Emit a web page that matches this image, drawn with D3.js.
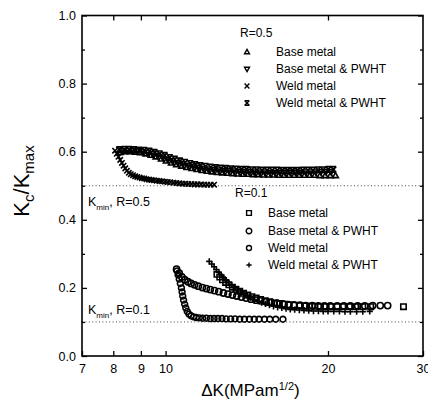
<!DOCTYPE html>
<html><head><meta charset="utf-8">
<script src="https://cdn.jsdelivr.net/npm/d3@7"></script>
<style>body{margin:0;background:#fff}svg{display:block;font-family:"Liberation Sans",Arial,sans-serif}</style>
</head><body><svg id="c" width="428" height="412"></svg>
<script>
const xTicks=[7,8,9,10,20,30];
const xInnerTicks=[8,9,10,20];
const yTicks=[0,0.2,0.4,0.6,0.8,1.0];
const yMinorTicks=[0.1,0.3,0.5,0.7,0.9];
const kminLevels=[0.5,0.1];

// R = 0.5
const r05BaseMetal=[[8.25,0.598],[8.43,0.6],[8.62,0.6],[8.81,0.599],[9.0,0.597],[9.2,0.594],[9.4,0.59],[9.6,0.585],[9.82,0.579],[10.03,0.573],[10.25,0.567],[10.48,0.562],[10.71,0.558],[10.95,0.554],[11.19,0.551],[11.44,0.548],[11.69,0.545],[11.95,0.543],[12.21,0.541],[12.48,0.539],[12.76,0.538],[13.04,0.537],[13.33,0.536],[13.62,0.535],[13.92,0.534],[14.23,0.534],[14.55,0.533],[14.87,0.533],[15.2,0.532],[15.53,0.532],[15.88,0.532],[16.23,0.531],[16.59,0.531],[16.95,0.531],[17.33,0.531],[17.71,0.531],[18.1,0.531],[18.5,0.531],[18.91,0.531],[19.33,0.53],[19.76,0.53],[20.2,0.53],[20.65,0.53]];
const r05BaseMetalPWHT=[[8.3,0.602],[8.48,0.603],[8.66,0.603],[8.85,0.602],[9.04,0.6],[9.24,0.598],[9.45,0.594],[9.66,0.589],[9.87,0.584],[10.08,0.578],[10.3,0.573],[10.53,0.568],[10.76,0.564],[11.0,0.56],[11.24,0.557],[11.49,0.554],[11.74,0.551],[12.0,0.549],[12.27,0.547],[12.54,0.546],[12.81,0.545],[13.1,0.544],[13.39,0.543],[13.68,0.542],[13.98,0.541],[14.29,0.541],[14.6,0.54],[14.93,0.54],[15.26,0.54],[15.6,0.539],[15.94,0.539],[16.29,0.539],[16.65,0.539],[17.02,0.539],[17.4,0.539],[17.78,0.539],[18.17,0.54],[18.57,0.54],[18.98,0.54],[19.4,0.541],[19.83,0.541],[20.27,0.541]];
const r05WeldMetal=[[8.06,0.603],[8.12,0.594],[8.18,0.585],[8.24,0.576],[8.3,0.567],[8.36,0.559],[8.42,0.551],[8.48,0.544],[8.55,0.538],[8.62,0.534],[8.7,0.531],[8.78,0.528],[8.86,0.526],[8.95,0.524],[9.04,0.522],[9.13,0.521],[9.22,0.519],[9.32,0.518],[9.42,0.517],[9.52,0.516],[9.63,0.515],[9.74,0.514],[9.85,0.513],[9.97,0.512],[10.09,0.511],[10.21,0.51],[10.34,0.509],[10.47,0.508],[10.6,0.507],[10.74,0.506],[10.88,0.506],[11.02,0.505],[11.17,0.505],[11.32,0.504],[11.47,0.504],[11.63,0.504],[11.79,0.503],[11.95,0.503],[12.12,0.503],[12.3,0.503]];
const r05WeldMetalPWHT=[[8.2,0.606],[8.38,0.607],[8.56,0.607],[8.75,0.606],[8.94,0.605],[9.14,0.604],[9.34,0.602],[9.55,0.598],[9.76,0.594],[9.97,0.589],[10.19,0.583],[10.41,0.578],[10.64,0.573],[10.88,0.569],[11.12,0.565],[11.36,0.562],[11.61,0.559],[11.87,0.557],[12.13,0.555],[12.4,0.553],[12.67,0.552],[12.95,0.551],[13.24,0.55],[13.53,0.549],[13.83,0.548],[14.13,0.548],[14.44,0.547],[14.76,0.547],[15.09,0.546],[15.42,0.546],[15.76,0.546],[16.11,0.546],[16.46,0.545],[16.82,0.545],[17.19,0.545],[17.57,0.545],[17.96,0.546],[18.36,0.546],[18.76,0.546],[19.17,0.547],[19.6,0.547],[20.03,0.548],[20.47,0.548]];

// R = 0.1
const r01BaseMetal=[[12.45,0.24],[12.6,0.232],[12.75,0.224],[12.92,0.216],[13.1,0.209],[13.3,0.202],[13.5,0.196],[13.72,0.19],[13.95,0.184],[14.2,0.179],[14.45,0.174],[14.72,0.17],[15.0,0.166],[15.3,0.162],[15.6,0.159],[15.92,0.156],[16.25,0.154],[16.6,0.152],[16.95,0.15],[17.3,0.149],[17.7,0.148],[18.1,0.147],[18.5,0.146],[18.9,0.146],[19.35,0.145],[19.8,0.145],[20.3,0.145],[20.8,0.145],[21.3,0.145],[21.9,0.145],[22.5,0.145],[23.2,0.145],[24.0,0.145],[27.6,0.145]];
const r01BaseMetalPWHT=[[10.48,0.255],[10.6,0.243],[10.72,0.232],[10.85,0.224],[11.0,0.218],[11.15,0.213],[11.32,0.209],[11.5,0.205],[11.7,0.201],[11.9,0.198],[12.1,0.195],[12.32,0.192],[12.55,0.189],[12.8,0.185],[13.05,0.182],[13.3,0.179],[13.55,0.176],[13.82,0.173],[14.1,0.17],[14.4,0.167],[14.7,0.164],[15.0,0.162],[15.35,0.159],[15.7,0.157],[16.1,0.155],[16.5,0.153],[16.9,0.151],[17.3,0.15],[17.75,0.149],[18.2,0.148],[18.7,0.148],[19.2,0.147],[19.7,0.147],[20.2,0.147],[20.8,0.147],[21.4,0.147],[22.0,0.147],[22.7,0.147],[23.4,0.147],[24.2,0.148],[25.0,0.148],[25.8,0.148]];
const r01WeldMetal=[[10.5,0.25],[10.55,0.238],[10.6,0.226],[10.65,0.213],[10.7,0.2],[10.73,0.188],[10.76,0.176],[10.8,0.164],[10.85,0.152],[10.9,0.141],[10.97,0.131],[11.05,0.123],[11.15,0.118],[11.27,0.115],[11.4,0.113],[11.55,0.112],[11.72,0.111],[11.9,0.111],[12.1,0.11],[12.3,0.11],[12.5,0.11],[12.72,0.11],[12.95,0.109],[13.2,0.109],[13.45,0.109],[13.72,0.108],[14.0,0.108],[14.3,0.108],[14.6,0.108],[14.9,0.108],[15.25,0.108],[15.6,0.108],[16.0,0.108],[16.5,0.108]];
const r01WeldMetalPWHT=[[12.05,0.278],[12.18,0.27],[12.3,0.262],[12.42,0.254],[12.55,0.246],[12.68,0.238],[12.82,0.23],[12.96,0.222],[13.1,0.215],[13.26,0.208],[13.42,0.201],[13.6,0.194],[13.78,0.188],[13.97,0.182],[14.17,0.176],[14.38,0.171],[14.6,0.166],[14.83,0.161],[15.07,0.157],[15.32,0.153],[15.58,0.149],[15.85,0.146],[16.13,0.143],[16.42,0.141],[16.72,0.139],[17.03,0.137],[17.35,0.136],[17.7,0.135],[18.05,0.134],[18.42,0.133],[18.8,0.132],[19.2,0.132],[19.6,0.131],[20.0,0.131],[20.5,0.131],[21.0,0.131],[21.5,0.13],[22.0,0.13],[22.6,0.13],[23.2,0.13],[23.9,0.131]];

const legendR05=["Base metal","Base metal & PWHT","Weld metal","Weld metal & PWHT"];
const legendR01=["Base metal","Base metal & PWHT","Weld metal","Weld metal & PWHT"];

const L=82,R=423,T=15.5,B=356;
const x=d3.scaleLog().domain([7,30]).range([L,R]);
const y=d3.scaleLinear().domain([0,1]).range([B,T]);
const svg=d3.select("#c");

const sym={
  triUp:s=>`M0,${-s}L${s*0.95},${s*0.7}L${-s*0.95},${s*0.7}Z`,
  triDown:s=>`M0,${s}L${s*0.95},${-s*0.7}L${-s*0.95},${-s*0.7}Z`,
  cross:s=>`M${-s},${-s}L${s},${s}M${-s},${s}L${s},${-s}`,
  star:s=>`M${-s},${-s}L${s},${s}M${-s},${s}L${s},${-s}M${-s},${-s}H${s}M${-s},${s}H${s}`,
  square:s=>`M${-s},${-s}H${s}V${s}H${-s}Z`,
  circle:s=>`M${s},0A${s},${s} 0 1 1 ${-s},0A${s},${s} 0 1 1 ${s},0Z`,
  plus:s=>`M${-s},0H${s}M0,${-s}V${s}`
};
const series=[
  {data:r05BaseMetal,shape:"triUp",s:3},
  {data:r05BaseMetalPWHT,shape:"triDown",s:3},
  {data:r05WeldMetal,shape:"cross",s:2.7},
  {data:r05WeldMetalPWHT,shape:"star",s:2.8},
  {data:r01BaseMetal,shape:"square",s:2.7},
  {data:r01BaseMetalPWHT,shape:"circle",s:3.1},
  {data:r01WeldMetal,shape:"circle",s:2.9},
  {data:r01WeldMetalPWHT,shape:"plus",s:3.1}
];

svg.append("g").selectAll("line").data(kminLevels).join("line")
  .attr("x1",L).attr("x2",R).attr("y1",d=>y(d)).attr("y2",d=>y(d))
  .attr("stroke","#444").attr("stroke-width",1).attr("stroke-dasharray","1,2.4");

const gd=svg.append("g");
series.forEach(sr=>{
  gd.append("g").selectAll("path").data(sr.data).join("path")
    .attr("transform",d=>`translate(${x(d[0])},${y(d[1])})`)
    .attr("d",sym[sr.shape](sr.s))
    .attr("fill","none").attr("stroke","#000").attr("stroke-width",1.6);
});

const fmtY=d3.format(".1f");
const styleText=g=>g.selectAll("text").attr("font-size",12.5).attr("font-family","Liberation Sans, Arial, sans-serif").attr("fill","#000");
const styleLines=g=>g.selectAll("line").attr("stroke","#000").attr("stroke-width",1.3);
svg.append("g").attr("transform",`translate(0,${B})`)
  .call(d3.axisBottom(x).tickValues(xTicks).tickFormat(d3.format("d")).tickSizeInner(-5).tickSizeOuter(0).tickPadding(8))
  .call(g=>g.select(".domain").remove()).call(styleText).call(styleLines);
svg.append("g").attr("transform",`translate(0,${T})`)
  .call(d3.axisTop(x).tickValues(xInnerTicks).tickFormat("").tickSizeInner(-5).tickSizeOuter(0))
  .call(g=>g.select(".domain").remove()).call(styleLines);
svg.append("g").attr("transform",`translate(${L},0)`)
  .call(d3.axisLeft(y).tickValues(yTicks).tickFormat(fmtY).tickSizeInner(-5).tickSizeOuter(0).tickPadding(6))
  .call(g=>g.select(".domain").remove()).call(styleText).call(styleLines);
svg.append("g").attr("transform",`translate(${L},0)`)
  .call(d3.axisLeft(y).tickValues(yMinorTicks).tickFormat("").tickSizeInner(-3).tickSizeOuter(0))
  .call(g=>g.select(".domain").remove()).call(styleLines);
svg.append("g").attr("transform",`translate(${R},0)`)
  .call(d3.axisRight(y).tickValues(yTicks).tickFormat("").tickSizeInner(-5).tickSizeOuter(0))
  .call(g=>g.select(".domain").remove()).call(styleLines);
svg.append("g").attr("transform",`translate(${R},0)`)
  .call(d3.axisRight(y).tickValues(yMinorTicks).tickFormat("").tickSizeInner(-3).tickSizeOuter(0))
  .call(g=>g.select(".domain").remove()).call(styleLines);

svg.append("rect").attr("x",L).attr("y",T).attr("width",R-L).attr("height",B-T)
  .attr("fill","none").attr("stroke","#000").attr("stroke-width",1.6);

const xt=svg.append("text").attr("x",(L+R)/2-2).attr("y",396).attr("text-anchor","middle")
  .attr("font-size",17).attr("fill","#000");
xt.append("tspan").text("\u0394K(MPam");
xt.append("tspan").attr("font-size",11).attr("dy",-6).text("1/2");
xt.append("tspan").attr("dy",6).text(")");

const yt=svg.append("text").attr("transform","translate(29,181) rotate(-90)").attr("text-anchor","middle")
  .attr("font-size",22).attr("fill","#000");
yt.append("tspan").text("K");
yt.append("tspan").attr("font-size",15).attr("dy",5).text("c");
yt.append("tspan").attr("dy",-5).text("/K");
yt.append("tspan").attr("font-size",15).attr("dy",5).text("max");

function kminLabel(xp,yp,txt){
  const t=svg.append("text").attr("x",xp).attr("y",yp).attr("font-size",12.5).attr("fill","#000");
  t.append("tspan").text("K");
  t.append("tspan").attr("font-size",8).attr("dy",4).text("min");
  t.append("tspan").attr("dy",-4).text(txt);
}
kminLabel(88,y(0.5)+20,", R=0.5");
kminLabel(88,y(0.1)-8,", R=0.1");

function legend(tx,ty,title,names,shapes,sizes,sx,txx,rows){
  svg.append("text").attr("x",tx).attr("y",ty+4).attr("font-size",12).attr("fill","#000").text(title);
  names.forEach((n,i)=>{
    const yy=rows[i];
    svg.append("path").attr("transform",`translate(${sx},${yy})`).attr("d",sym[shapes[i]](sizes[i]))
      .attr("fill","none").attr("stroke","#000").attr("stroke-width",1.4);
    svg.append("text").attr("x",txx).attr("y",yy+4).attr("font-size",12).attr("fill","#000").text(n);
  });
}
legend(240,33,"R=0.5",legendR05,["triUp","triDown","cross","star"],[2.6,2.6,2.4,2.4],247,276,[52,69,86,103]);
legend(235,193,"R=0.1",legendR01,["square","circle","circle","plus"],[2.4,2.8,2.5,2.6],249,268,[213,231,248,265]);
</script></body></html>
